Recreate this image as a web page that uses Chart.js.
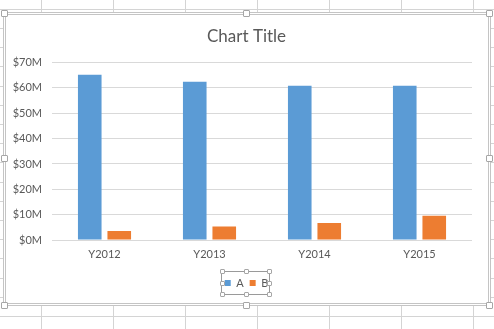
<!DOCTYPE html>
<html>
<head>
<meta charset="utf-8">
<script src="https://cdn.jsdelivr.net/npm/chart.js@4"></script>
<style>
  html, body { margin:0; padding:0; width:494px; height:329px; overflow:hidden; background:#fff; }
  #sheet { position:absolute; left:0; top:0; width:494px; height:329px; }
  .gl { position:absolute; background:#d4d4d4; }
  #frame { position:absolute; left:3px; top:12px; width:488px; height:294px; box-sizing:border-box;
           border:3px double #c4c4c4; background:#fff; }
  #wrap { position:absolute; left:6px; top:15px; width:481px; height:288px; }
  .h { position:absolute; width:6px; height:6px; box-sizing:border-box; border:1px solid #a6a6a6;
       background:#fff; border-radius:1px; }
  #lsel { position:absolute; left:221px; top:271px; width:49px; height:24px; box-sizing:border-box;
          border:1px solid #9a9a9a; }
</style>
</head>
<body>
<div id="sheet"></div>
<div id="frame"></div>
<div id="wrap"><canvas id="c" width="481" height="288"></canvas></div>
<div id="lsel"></div>
<script>
// ---- data ----
const categories = ["Y2012", "Y2013", "Y2014", "Y2015"];
const seriesA = [65.2, 62.4, 60.9, 60.9];   // $M
const seriesB = [3.6, 5.3, 6.7, 9.6];       // $M
const seriesNames = ["A", "B"];
const yTickValues = [0, 10, 20, 30, 40, 50, 60, 70];

// ---- spreadsheet background (decoration) ----
const sheet = document.getElementById('sheet');
for (let x = 41; x < 494; x += 72) {
  const d = document.createElement('div'); d.className = 'gl';
  d.style.left = x + 'px'; d.style.top = '0px'; d.style.width = '1px'; d.style.height = '329px';
  sheet.appendChild(d);
}
for (let k = 0; k < 18; k++) {
  const y = Math.round(316 - 19.2 * k);
  if (y < 0) break;
  const d = document.createElement('div'); d.className = 'gl';
  d.style.left = '0px'; d.style.top = y + 'px'; d.style.width = '494px'; d.style.height = '1px';
  sheet.appendChild(d);
}
// selection handles (decoration)
function handle(cx, cy, size) {
  const d = document.createElement('div'); d.className = 'h';
  d.style.width = size + 'px'; d.style.height = size + 'px';
  d.style.left = Math.round(cx - size / 2) + 'px'; d.style.top = Math.round(cy - size / 2) + 'px';
  document.body.appendChild(d);
}
[[4,13],[246,13],[489,13],[4,158],[489,158],[4,305],[246,305],[489,305]].forEach(p => handle(p[0], p[1], 7));
[[222,271],[246,271],[269,271],[222,283],[269,283],[222,294],[246,294],[269,294]].forEach(p => handle(p[0], p[1], 5));

// ---- chart ----
const txt = '#595959';
new Chart(document.getElementById('c'), {
  type: 'bar',
  data: {
    labels: categories,
    datasets: [
      { label: seriesNames[0], data: seriesA, backgroundColor: '#5B9BD5', borderWidth: 0 },
      { label: seriesNames[1], data: seriesB, backgroundColor: '#ED7D31', borderWidth: 0 }
    ]
  },
  options: {
    responsive: false,
    animation: false,
    devicePixelRatio: 1,
    datasets: { bar: { categoryPercentage: 0.562, barPercentage: 0.8 } },
    layout: { padding: { top: 11, bottom: 4.5, left: 0, right: 0 } },
    plugins: {
      title: { display: true, text: 'Chart Title', color: txt,
               font: { family: 'Lato', size: 17, weight: 'normal', lineHeight: 1.27 }, padding: { top: 0, bottom: 15 } },
      legend: { display: true, position: 'bottom',
                labels: { color: txt, boxWidth: 6, boxHeight: 6, padding: 6,
                          font: { family: 'Lato', size: 11 } } },
      tooltip: { enabled: false }
    },
    scales: {
      x: {
        grid: { display: false, drawTicks: false },
        border: { display: false },
        ticks: { color: txt, font: { family: 'Lato', size: 11 }, padding: 8 },
        afterFit: s => { s.height = 31.5; }
      },
      y: {
        min: 0, max: 70,
        afterBuildTicks: s => { s.ticks = yTickValues.map(v => ({ value: v })); },
        grid: { color: '#d9d9d9', drawTicks: false },
        border: { display: false },
        ticks: { color: txt, font: { family: 'Lato', size: 11 }, padding: 10,
                 callback: v => '$' + v + 'M' },
        afterFit: s => { s.width = 46; }
      },
      yRightSpace: {
        position: 'right', display: true,
        grid: { display: false, drawTicks: false },
        border: { display: false },
        ticks: { display: false },
        afterFit: s => { s.width = 15; }
      }
    }
  }
});
</script>
</body>
</html>
